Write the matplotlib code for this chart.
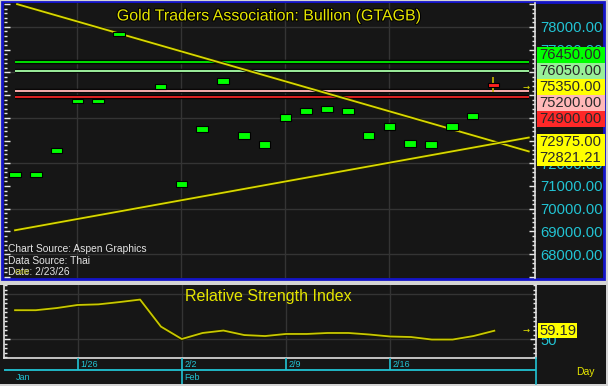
import matplotlib
matplotlib.use('Agg')
import matplotlib.pyplot as plt
import matplotlib.patheffects as pe
import matplotlib.transforms as mtransforms
from matplotlib.patches import Rectangle
from matplotlib.ticker import MultipleLocator, FixedLocator
import numpy as np

plt.rcParams['font.family'] = ['Liberation Sans', 'DejaVu Sans']

# ---------------- data ----------------
dates = ['1/21', '1/22', '1/23', '1/26', '1/27', '1/28', '1/29', '1/30',
         '2/2', '2/3', '2/4', '2/5', '2/6', '2/9', '2/10', '2/11', '2/12',
         '2/13', '2/16', '2/17', '2/18', '2/19', '2/20', '2/23']
open_ = [71405, 71405, 72465, 74655, 74655, 77605, 79300, 75275, 70935, 73390,
         75500, 73085, 72690, 73875, 74180, 74270, 74165, 73085, 73480, 72735,
         72690, 73480, 73960, 75550]
close = [71595, 71595, 72655, 74845, 74845, 77795, 79700, 75465, 71205, 73660,
         75770, 73355, 72960, 74145, 74450, 74540, 74435, 73355, 73750, 73005,
         72960, 73750, 74230, 75350]
last_high = 75800
last_low = 75150
rsi = [82.0, 82.0, 84.4, 87.8, 88.5, 91.0, 93.8, 63.8, 50.0, 56.7, 59.4, 54.4,
       53.3, 55.6, 55.6, 56.7, 56.7, 55.0, 52.8, 52.2, 49.4, 49.4, 53.3, 59.19]
levels = [76450, 76050, 75200, 74900]
level_colors = ['#00d800', '#98e898', '#f0a8a8', '#d82020']
trend_down = [(0.1, 79000), (24.7, 72520)]
trend_up = [(0.0, 69050), (24.7, 73130)]
box_labels = ['76450.00', '76050.00', '75350.00', '75200.00', '74900.00',
              '72975.00', '72821.21']
box_colors = ['#00ff00', '#98f098', '#ffff00', '#ffb8b8', '#ff2828',
              '#ffff00', '#ffff00']
week_ticks = ['1/26', '2/2', '2/9', '2/16']
month_ticks = ['Jan', 'Feb']
title = 'Gold Traders Association: Bullion (GTAGB)'
rsi_title = 'Relative Strength Index'

W, H = 608, 386
BG = '#161616'
GRID = '#343434'
CYAN = '#22c4d4'
YEL = '#e6e600'

def fx(x):
    return x / W

def fy(y):
    return 1 - y / H

fig = plt.figure(figsize=(W / 100, H / 100), dpi=100, facecolor='#d4d4d4')

# panel backgrounds
fig.patches.append(Rectangle((fx(1.5), fy(279)), (604 - 1.5) / W, 277.5 / H,
                             transform=fig.transFigure, fc=BG, ec='#1414c8',
                             lw=2.0, zorder=-2))
fig.patches.append(Rectangle((fx(0), fy(384)), 606 / W, 99 / H,
                             transform=fig.transFigure, fc=BG, ec='none', zorder=-2))

x = np.arange(len(dates))
week_idx = [dates.index(d) for d in week_ticks]
xl = (-0.53, 25.0)

# ---------------- main price panel ----------------
ax = fig.add_axes([fx(4), fy(278), 531 / W, 275 / H], facecolor=BG)
ax.set_xlim(*xl)
ax.set_ylim(66950, 79050)
for s in ['left', 'top', 'bottom']:
    ax.spines[s].set_visible(False)
ax.spines['right'].set_color('#e0e0e0')
ax.spines['right'].set_linewidth(1.2)

for g in range(68000, 78001, 2000):
    ax.axhline(g, color=GRID, lw=1.0, zorder=0.5)
for wi in week_idx:
    ax.axvline(wi, color=GRID, lw=1.0, zorder=0.5)

ax.set_xticks([])
ax.yaxis.set_major_locator(MultipleLocator(1000))
ax.yaxis.set_minor_locator(MultipleLocator(200))
ax.yaxis.set_major_formatter(lambda v, p: f'{v:.2f}' if 68000 <= v <= 78000 else '')
ax.tick_params(axis='y', which='both', direction='in', left=True, right=True,
               labelleft=False, labelright=True, color='#e8e8e8', width=1.0)
ax.tick_params(axis='y', which='major', length=4.0, pad=3.5, labelsize=10.6,
               labelcolor=CYAN)
ax.tick_params(axis='y', which='minor', length=2.2)

stroke = [pe.Stroke(linewidth=3.2, foreground='black'), pe.Normal()]
ax.hlines(levels, 0, 24.7, colors=level_colors, lw=1.5, zorder=2,
          path_effects=stroke)

for seg in (trend_down, trend_up):
    ax.plot([seg[0][0], seg[1][0]], [seg[0][1], seg[1][1]], color='#d8d800',
            lw=1.3, zorder=3,
            path_effects=[pe.Stroke(linewidth=2.6, foreground='#202000'), pe.Normal()])

o = np.array(open_, dtype=float)
c = np.array(close, dtype=float)
up = c >= o
ax.vlines(x[-1], last_low, last_high, color='#c8b400', lw=1.2, zorder=3.5)
ax.bar(x[up], (c - o)[up], bottom=o[up], width=0.55, color='#00ff00',
       edgecolor='black', linewidth=0.8, zorder=4)
ax.bar(x[~up], (c - o)[~up], bottom=o[~up], width=0.55, color='#ff2020',
       edgecolor='black', linewidth=0.8, zorder=4)

ax.text(0.5, 0.953, title, transform=ax.transAxes, ha='center', va='center',
        fontsize=11.5, color=YEL, zorder=6,
        path_effects=[pe.Stroke(linewidth=1.5, foreground='black'), pe.Normal()])

ax.text(24.55, close[-1], '→', color=YEL, fontsize=6, ha='center', va='center',
        zorder=6, family='DejaVu Sans')

# stacked value boxes on the right axis
blend = mtransforms.blended_transform_factory(ax.transAxes, ax.transData)
step = 16 / 22.8 * 1000
box_centers = [76772 - i * step for i in range(5)] + [72925, 72925 - step]
for lab, bc, cy in zip(box_labels, box_colors, box_centers):
    ax.add_patch(Rectangle((1.004, cy - step / 2), 0.128, step, transform=blend,
                           fc=bc, ec='none', clip_on=False, zorder=5))
    ax.text(1.008, cy, lab, transform=blend, ha='left', va='center',
            fontsize=10.6, color='#2a2a2a', clip_on=False, zorder=6)

# source notes
for t, yy in [('Chart Source: Aspen Graphics', 249), ('Data Source: Thai', 261),
              ('Date: 2/23/26', 272)]:
    fig.text(fx(8), fy(yy), t, ha='left', va='center', fontsize=7.4,
             color='#e4e4e4', zorder=10)
fig.text(fx(15), fy(273), 'Gold', ha='left', va='center', fontsize=5,
         color='#a8a800', zorder=11)

# ---------------- RSI panel ----------------
ax2 = fig.add_axes([fx(4), fy(358), 532 / W, 73 / H], facecolor=BG)
ax2.set_xlim(*xl)
ax2.set_ylim(28.9, 110)
ax2.spines['top'].set_visible(False)
for s in ['left', 'right', 'bottom']:
    ax2.spines[s].set_color('#e0e0e0')
    ax2.spines[s].set_linewidth(1.2)
for g in (50, 100):
    ax2.axhline(g, color=GRID, lw=1.0, zorder=0.5)
for wi in week_idx:
    ax2.axvline(wi, color=GRID, lw=1.0, zorder=0.5)
ax2.set_xticks([])
ax2.yaxis.set_major_locator(FixedLocator([50]))
ax2.yaxis.set_minor_locator(MultipleLocator(5))
ax2.tick_params(axis='y', which='both', direction='in', left=True, right=True,
                labelleft=False, labelright=True, color='#e8e8e8', width=1.0)
ax2.tick_params(axis='y', which='major', length=4.0, pad=3.5, labelsize=10.6,
                labelcolor=CYAN)
ax2.tick_params(axis='y', which='minor', length=2.2)

ax2.plot(x, rsi, color='#c8c800', lw=1.3, zorder=3,
         path_effects=[pe.Stroke(linewidth=2.6, foreground='#1a1a00'), pe.Normal()])
ax2.text(0.497, 0.836, rsi_title, transform=ax2.transAxes, ha='center',
         va='center', fontsize=11.5, color=YEL, zorder=6)
ax2.text(24.5, rsi[-1], '→', color=YEL, fontsize=6, ha='center', va='center',
         zorder=6, family='DejaVu Sans')
blend2 = mtransforms.blended_transform_factory(ax2.transAxes, ax2.transData)
ax2.add_patch(Rectangle((1.004, rsi[-1] - 8.5), 0.074, 17, transform=blend2,
                        fc='#ffff00', ec='none', clip_on=False, zorder=5))
ax2.text(1.006, rsi[-1], f'{rsi[-1]:.2f}', transform=blend2, ha='left',
         va='center', fontsize=10.6, color='#2a2a2a', clip_on=False, zorder=6)

# ---------------- date axis ----------------
ax3 = fig.add_axes([fx(4), fy(384), 532 / W, 26 / H], facecolor=BG)
ax3.set_xlim(*xl)
ax3.set_ylim(0, 1)
ax3.axis('off')
yline = (384 - 370) / 26
ax3.axhline(yline, color=CYAN, lw=1.3)
ax3.vlines(week_idx, yline, 1, color=CYAN, lw=1.2)
feb = dates.index('2/2')
ax3.vlines([feb], 0, yline, color=CYAN, lw=1.2)
ax3.plot([1, 1], [0, 1], transform=ax3.transAxes, color=CYAN, lw=1.2,
         clip_on=False)
for wi, lab in zip(week_idx, week_ticks):
    ax3.text(wi + 0.12, (384 - 364.5) / 26, lab, ha='left', va='center',
             fontsize=6.5, color=CYAN)
ax3.text(0.03, (384 - 377) / 26, month_ticks[0], ha='left', va='center',
         fontsize=6.5, color=CYAN)
ax3.text(feb + 0.12, (384 - 377) / 26, month_ticks[1], ha='left', va='center',
         fontsize=6.5, color=CYAN)
fig.text(fx(585), fy(372), 'Day', ha='center', va='center', fontsize=7.5,
         color=YEL)

fig.savefig('out.png', dpi=100, facecolor=fig.get_facecolor())
